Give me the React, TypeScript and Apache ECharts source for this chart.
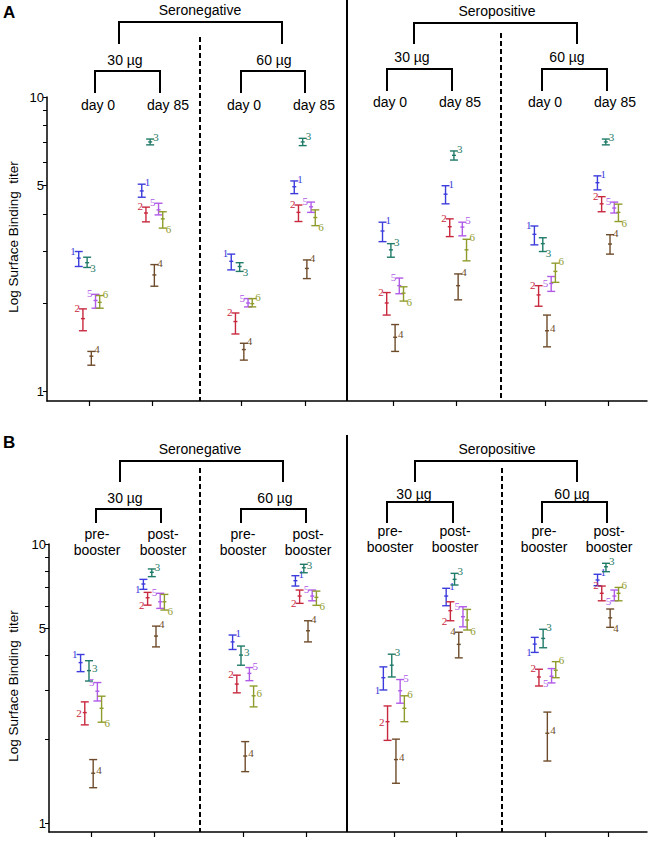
import { useEffect, useRef } from 'react';
import * as echarts from 'echarts';

// ---- Data ----
const SERIES_NAMES = ['1', '2', '3', '4', '5', '6'];
const COLORS = ['#3c3cdc', '#c8283e', '#1f7a68', '#6e4b2a', '#b05ae8', '#8f9c2c'];
// x positions of the 8 groups (30µg d0, 30µg d85, 60µg d0, 60µg d85) x (seroneg, seropos)
const GROUP_POS = [0.67, 1.67, 3.09, 4.09, 5.49, 6.49, 7.9, 8.9];
const Y_TICKS = [1, 2, 3, 4, 5, 6, 7, 8, 9, 10];
const Y_LABELS = [1, 5, 10];

// Panel A: [low, mean, high] per group
const A_S1 = [[2.66, 2.84, 2.99], [4.57, 4.8, 5.06], [2.59, 2.77, 2.93], [4.7, 4.96, 5.19], [3.23, 3.51, 3.76], [4.34, 4.68, 5.0], [3.15, 3.42, 3.65], [4.84, 5.12, 5.4]];
const A_S2 = [[1.61, 1.77, 1.91], [3.77, 4.04, 4.23], [1.57, 1.73, 1.85], [3.78, 4.06, 4.3], [1.82, 2.0, 2.17], [3.36, 3.63, 3.86], [1.95, 2.13, 2.29], [4.08, 4.34, 4.59]];
const A_S3 = [[2.64, 2.74, 2.86], [6.88, 7.04, 7.2], [2.56, 2.66, 2.74], [6.84, 7.04, 7.24], [2.86, 3.03, 3.18], [6.11, 6.34, 6.56], [2.99, 3.18, 3.33], [6.88, 7.04, 7.2]];
const A_S4 = [[1.23, 1.32, 1.37], [2.28, 2.49, 2.7], [1.28, 1.39, 1.46], [2.42, 2.62, 2.8], [1.37, 1.53, 1.69], [2.05, 2.29, 2.51], [1.42, 1.61, 1.82], [2.93, 3.17, 3.41]];
const A_S5 = [[1.92, 2.04, 2.14], [3.98, 4.14, 4.36], [1.94, 2.0, 2.07], [4.06, 4.24, 4.4], [2.15, 2.29, 2.43], [3.38, 3.62, 3.76], [2.19, 2.33, 2.46], [4.04, 4.2, 4.4]];
const A_S6 = [[1.92, 2.01, 2.12], [3.59, 3.86, 4.08], [1.94, 1.99, 2.07], [3.66, 3.9, 4.14], [2.03, 2.16, 2.27], [2.78, 3.03, 3.29], [2.35, 2.56, 2.73], [3.78, 4.06, 4.33]];

// Panel B: [low, mean, high] per group
const B_S1 = [[3.49, 3.76, 4.02], [6.88, 7.19, 7.47], [4.19, 4.46, 4.72], [7.07, 7.39, 7.7], [3.0, 3.32, 3.63], [6.01, 6.51, 6.94], [4.09, 4.38, 4.63], [7.09, 7.43, 7.79]];
const B_S2 = [[2.25, 2.49, 2.72], [6.04, 6.42, 6.71], [2.93, 3.15, 3.39], [6.13, 6.51, 6.84], [1.98, 2.31, 2.63], [5.31, 5.77, 6.21], [3.1, 3.34, 3.56], [6.26, 6.66, 7.07]];
const B_S3 = [[3.23, 3.52, 3.82], [7.64, 7.92, 8.14], [3.68, 4.0, 4.31], [7.89, 8.22, 8.46], [3.34, 3.68, 4.03], [7.13, 7.47, 7.85], [4.25, 4.59, 4.95], [7.96, 8.29, 8.53]];
const B_S4 = [[1.34, 1.51, 1.69], [4.28, 4.68, 5.08], [1.53, 1.74, 1.96], [4.46, 4.89, 5.31], [1.39, 1.69, 2.0], [3.91, 4.37, 4.83], [1.67, 2.1, 2.5], [5.03, 5.44, 5.85]];
const B_S5 = [[2.74, 2.97, 3.19], [5.88, 6.21, 6.66], [3.24, 3.44, 3.61], [6.26, 6.51, 6.84], [2.69, 2.98, 3.27], [5.05, 5.49, 5.96], [3.18, 3.36, 3.58], [6.26, 6.51, 6.84]];
const B_S6 = [[2.3, 2.58, 2.85], [5.8, 6.21, 6.6], [2.61, 2.86, 3.1], [6.03, 6.44, 6.78], [2.31, 2.58, 2.86], [4.92, 5.34, 5.83], [3.32, 3.53, 3.79], [6.26, 6.66, 6.99]];

// label placement per group, per series (1..6)
const LABELS_A = [
  ['tl', 'tl', 'br', 'tr', 'tl', 'tr'],
  ['tr', 'tl', 'tr', 'tr', 'tl', 'br'],
  ['tl', 'tl', 'br', 'tr', 'tl', 'tr'],
  ['tr', 'tl', 'tr', 'tr', 'tl', 'br'],
  ['tr', 'tl', 'tr', 'r', 'tl', 'br'],
  ['tr', 'tl', 'tr', 'tr', 'tr', 'tr'],
  ['tl', 'tl', 'br', 'r', 'l', 'tr'],
  ['tr', 'tl', 'tr', 'tr', 'tl', 'br'],
];
const LABELS_B = [
  ['tl', 'l', 'r', 'r', 'tl', 'br'],
  ['bl', 'bl', 'tr', 'tr', 'tl', 'br'],
  ['tr', 'tl', 'r', 'r', 'tr', 'r'],
  ['tr', 'bl', 'r', 'tr', 'tl', 'br'],
  ['bl', 'l', 'tr', 'r', 'tr', 'tr'],
  ['tr', 'bl', 'tr', 'tl', 'tl', 'br'],
  ['bl', 'tl', 'tr', 'r', 'bl', 'tr'],
  ['tr', 'tl', 'tr', 'br', 'bl', 'tr'],
];

const PANEL_A = [A_S1, A_S2, A_S3, A_S4, A_S5, A_S6];
const PANEL_B = [B_S1, B_S2, B_S3, B_S4, B_S5, B_S6];

const SANS = '"Liberation Sans", Arial, sans-serif';
const SERIF = '"Liberation Serif", "Times New Roman", serif';

function labelPlace(code: string, x: number, yLo: number, yMid: number, yHi: number) {
  switch (code) {
    case 'tr': return { x: x + 3, y: yHi - 2, align: 'left' };
    case 'tl': return { x: x - 3, y: yHi - 1, align: 'right' };
    case 'br': return { x: x + 3, y: yLo + 1, align: 'left' };
    case 'bl': return { x: x - 3, y: yLo, align: 'right' };
    case 'r': return { x: x + 3, y: yMid - 3, align: 'left' };
    default: return { x: x - 3, y: yMid, align: 'right' };
  }
}

function makeSeries(panel: number, si: number, data: number[][], labels: string[][]) {
  return {
    type: 'custom',
    name: SERIES_NAMES[si],
    xAxisIndex: panel,
    yAxisIndex: panel,
    data: data.map((d, gi) => [GROUP_POS[gi], d[0], d[1], d[2]]),
    encode: { x: 0, y: [1, 2, 3] },
    renderItem: (params: any, api: any) => {
      const xv = api.value(0);
      const pLo = api.coord([xv, api.value(1)]);
      const pMid = api.coord([xv, api.value(2)]);
      const pHi = api.coord([xv, api.value(3)]);
      const x = pLo[0] + (si - 2.5) * 4.2;
      const color = COLORS[si];
      const cap = 4;
      const ls = { stroke: color, lineWidth: 1.4 };
      const lp = labelPlace(labels[params.dataIndex][si], x, pLo[1], pMid[1], pHi[1]);
      return {
        type: 'group',
        children: [
          { type: 'line', shape: { x1: x, y1: pHi[1], x2: x, y2: pLo[1] }, style: ls },
          { type: 'line', shape: { x1: x - cap, y1: pHi[1], x2: x + cap, y2: pHi[1] }, style: ls },
          { type: 'line', shape: { x1: x - cap, y1: pLo[1], x2: x + cap, y2: pLo[1] }, style: ls },
          { type: 'line', shape: { x1: x - 2, y1: pMid[1], x2: x + 2, y2: pMid[1] }, style: ls },
          {
            type: 'text',
            style: {
              text: SERIES_NAMES[si], x: lp.x, y: lp.y, fill: color,
              font: `11px ${SERIF}`, align: lp.align, verticalAlign: 'middle',
              textAlign: lp.align, textVerticalAlign: 'middle',
            },
          },
        ],
      };
    },
  };
}

const xAxisBase = (gi: number) => ({
  type: 'value', gridIndex: gi, min: 0, max: 9.52,
  axisLine: { show: true, onZero: false, lineStyle: { color: '#000', width: 1.5 } },
  axisTick: { show: true, length: 5, lineStyle: { color: '#000', width: 1.2 }, customValues: GROUP_POS },
  axisLabel: { show: false },
  splitLine: { show: false },
});

const yAxisBase = (gi: number) => ({
  type: 'log', logBase: 10, gridIndex: gi, min: 0.93, max: 10,
  axisLine: { show: true, onZero: false, lineStyle: { color: '#000', width: 1.5 } },
  axisTick: { show: true, length: 4, lineStyle: { color: '#000', width: 1 }, customValues: Y_TICKS },
  axisLabel: { show: true, customValues: Y_LABELS, fontSize: 13, color: '#000', margin: 3, fontFamily: SANS },
  splitLine: { show: false },
  minorTick: { show: false },
});

function txt(text: string, x: number, y: number, size = 14, weight = 'normal', align = 'center') {
  return {
    type: 'text', x, y,
    style: {
      text, fill: '#000', font: `${weight} ${size}px ${SANS}`,
      align, verticalAlign: 'middle', textAlign: align, textVerticalAlign: 'middle',
    },
  };
}
function bracket(x1: number, x2: number, yTop: number, yBot: number) {
  return {
    type: 'polyline',
    shape: { points: [[x1, yBot], [x1, yTop], [x2, yTop], [x2, yBot]] },
    style: { stroke: '#000', lineWidth: 2, fill: 'none' },
  };
}
function vline(x: number, y1: number, y2: number, dashed: boolean) {
  return {
    type: 'line',
    shape: { x1: x, y1, x2: x, y2 },
    style: { stroke: '#000', lineWidth: 2, lineDash: dashed ? [5, 3] : null },
  };
}

const YTITLE = 'Log Surface Binding  titer';

const graphics: any[] = [
  // Panel A
  txt('A', 3, 12, 17, 'bold', 'left'),
  txt('Seronegative', 200, 10),
  bracket(119, 282, 22, 44),
  txt('30 µg', 125, 60), txt('60 µg', 274, 60),
  bracket(95, 160, 71, 93), bracket(241, 305, 71, 93),
  txt('day 0', 98, 105), txt('day 85', 168, 105), txt('day 0', 244, 105), txt('day 85', 314, 105),
  txt('Seropositive', 497, 11),
  bracket(414, 577, 23, 44),
  txt('30 µg', 412, 57), txt('60 µg', 567, 57),
  bracket(387, 452, 69, 91), bracket(542, 607, 69, 91),
  txt('day 0', 390, 102), txt('day 85', 460, 102), txt('day 0', 545, 102), txt('day 85', 615, 102),
  vline(347, 0, 401, false), vline(200, 37, 401, true), vline(501, 33, 401, true),
  { ...txt(YTITLE, 13, 237, 13.5), rotation: Math.PI / 2 },
  // Panel B
  txt('B', 3, 442, 17, 'bold', 'left'),
  txt('Seronegative', 200, 449),
  bracket(120, 283, 461, 482),
  txt('30 µg', 125, 498), txt('60 µg', 275, 498),
  bracket(96, 161, 509, 523), bracket(241, 306, 509, 523),
  txt('pre-', 97, 534), txt('booster', 97, 550), txt('post-', 163, 534), txt('booster', 163, 550),
  txt('pre-', 243, 534), txt('booster', 243, 550), txt('post-', 308, 534), txt('booster', 308, 550),
  txt('Seropositive', 497, 449),
  bracket(415, 577, 461, 482),
  txt('30 µg', 414, 494), txt('60 µg', 572, 494),
  bracket(387, 453, 502, 523), bracket(542, 607, 502, 523),
  txt('pre-', 390, 531), txt('booster', 390, 547), txt('post-', 455, 531), txt('booster', 455, 547),
  txt('pre-', 544, 531), txt('booster', 544, 547), txt('post-', 609, 531), txt('booster', 609, 547),
  vline(347, 435, 832, false), vline(200, 468, 832, true), vline(502, 468, 832, true),
  { ...txt(YTITLE, 13, 686, 13.5), rotation: Math.PI / 2 },
];

const option: any = {
  animation: false,
  backgroundColor: '#fff',
  grid: [
    { left: 47, top: 97, width: 600, height: 304, containLabel: false, outerBoundsMode: 'none' },
    { left: 49, top: 544, width: 598, height: 288, containLabel: false, outerBoundsMode: 'none' },
  ],
  xAxis: [xAxisBase(0), xAxisBase(1)],
  yAxis: [yAxisBase(0), yAxisBase(1)],
  series: [
    ...PANEL_A.map((d, si) => makeSeries(0, si, d, LABELS_A)),
    ...PANEL_B.map((d, si) => makeSeries(1, si, d, LABELS_B)),
  ],
  graphic: graphics,
};

export default function App() {
  const ref = useRef<HTMLDivElement>(null);
  useEffect(() => {
    document.body.style.margin = '0';
    const chart = echarts.init(ref.current!, null, { renderer: 'svg' });
    chart.setOption(option);
    return () => chart.dispose();
  }, []);
  return <div ref={ref} style={{ width: 650, height: 841 }} />;
}
